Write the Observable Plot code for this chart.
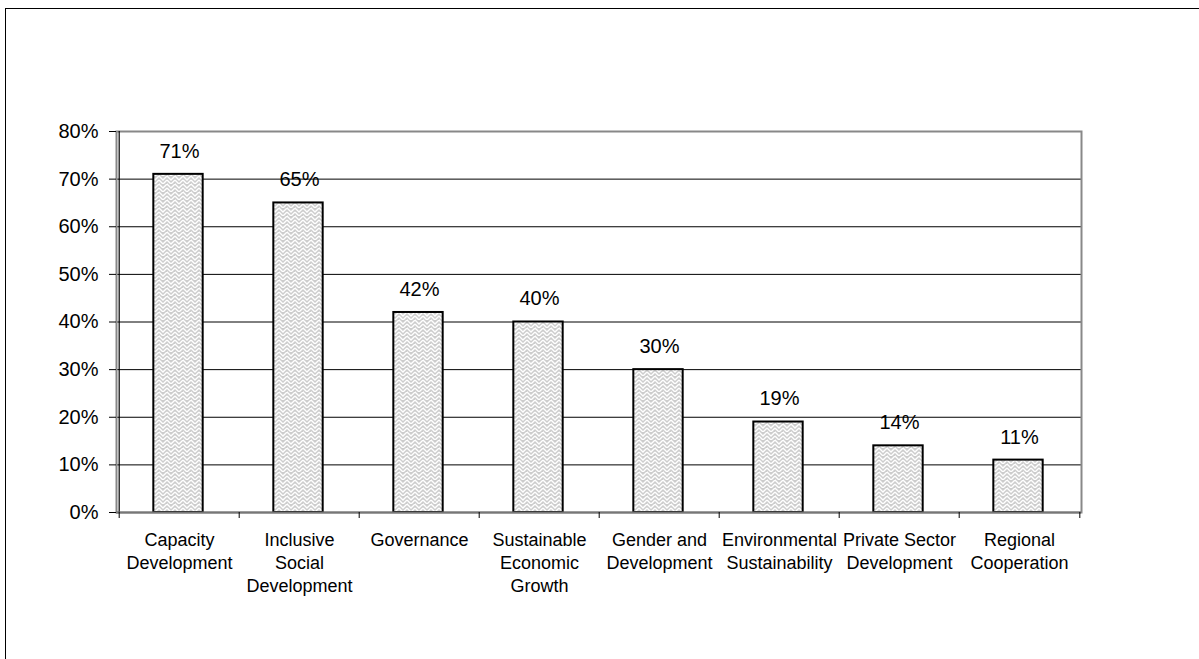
<!DOCTYPE html>
<html>
<head>
<meta charset="utf-8">
<script src="https://cdn.jsdelivr.net/npm/d3@7"></script>
<script src="https://cdn.jsdelivr.net/npm/@observablehq/plot@0.6"></script>
<style>
  html, body { margin: 0; padding: 0; background: #fff; overflow: hidden; }
  #wrap { position: relative; width: 1199px; height: 659px; overflow: hidden; }
  #border { position: absolute; left: 5px; top: 8px; width: 1300px; height: 800px; border: 1.5px solid #000; pointer-events: none; }
  svg { display: block; }
</style>
</head>
<body>
<div id="wrap"><div id="chart"></div><div id="border"></div></div>
<script>
const categories = ["Capacity Development", "Inclusive Social Development", "Governance", "Sustainable Economic Growth", "Gender and Development", "Environmental Sustainability", "Private Sector Development", "Regional Cooperation"];
const values = [0.71, 0.65, 0.42, 0.40, 0.30, 0.19, 0.14, 0.11];
const valueLabels = ["71%", "65%", "42%", "40%", "30%", "19%", "14%", "11%"];
const tickLabels = ["Capacity\nDevelopment", "Inclusive\nSocial\nDevelopment", "Governance", "Sustainable\nEconomic\nGrowth", "Gender and\nDevelopment", "Environmental\nSustainability", "Private Sector\nDevelopment", "Regional\nCooperation"];
const yTicks = [0, 0.1, 0.2, 0.3, 0.4, 0.5, 0.6, 0.7, 0.8];
const gridTicks = [0.1, 0.2, 0.3, 0.4, 0.5, 0.6, 0.7];

const data = categories.map((c, i) => ({category: c, value: values[i], label: valueLabels[i], tick: tickLabels[i]}));

const W = 1199, H = 659, mL = 116, mR = 118, mT = 131, mB = 147;
const step = (W - mL - mR) / categories.length;
const inset = (step - 50) / 2;

const plot = Plot.plot({
  width: W,
  height: H,
  marginLeft: mL,
  marginRight: mR,
  marginTop: mT,
  marginBottom: mB,
  style: {fontFamily: "'Liberation Sans', Arial, sans-serif", fontSize: "18px", color: "#000", background: "#fff"},
  x: {domain: categories, padding: 0, axis: null},
  y: {domain: [0, 0.8], axis: null},
  marks: [
    Plot.ruleY(gridTicks, {stroke: "#000", strokeWidth: 1}),
    Plot.frame({stroke: "#888", strokeWidth: 2}),
    Plot.barY(data, {x: "category", y: "value", fill: "url(#weave)", stroke: "#000", strokeWidth: 2, insetLeft: inset, insetRight: inset, dx: -1}),
    Plot.ruleX([categories[0]], {dx: -step / 2, stroke: "#000", strokeWidth: 1.2}),
    Plot.ruleY([0], {stroke: "#777", strokeWidth: 2}),
    Plot.axisY({ticks: yTicks, tickFormat: d3.format(".0%"), tickSize: 7, tickPadding: 11, fontSize: 20, stroke: "#000", label: null}),
    Plot.ruleX(categories, {x: d => d, dx: -step / 2, y1: 0, y2: 0, insetBottom: -6, stroke: "#000"}),
    Plot.ruleX([categories[categories.length - 1]], {dx: step / 2, y1: 0, y2: 0, insetBottom: -6, stroke: "#000"}),
    Plot.text(data, {x: "category", y: "value", text: "label", dy: -23, fontSize: 20, fill: "#000"}),
    Plot.text(data, {x: "category", y: 0, text: "tick", lineAnchor: "top", dy: 17, fontSize: 18, lineHeight: 1.28, fill: "#000"})
  ]
});

const ns = "http://www.w3.org/2000/svg";
const defs = document.createElementNS(ns, "defs");
defs.innerHTML = `<pattern id="weave" width="8" height="8" patternUnits="userSpaceOnUse">
  <rect width="8" height="8" fill="#cdcdcd"/>
  <path d="M0,0 L4,4 L8,0 M0,4 L4,8 L8,4 M-1,7 L1,9 M7,-1 L9,1" stroke="#fff" stroke-width="1.4" fill="none"/>
</pattern>`;
plot.insertBefore(defs, plot.firstChild);
document.getElementById("chart").appendChild(plot);
</script>
</body>
</html>
